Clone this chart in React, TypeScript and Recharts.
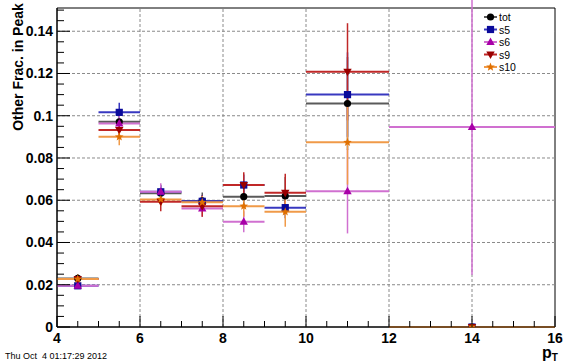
import React from "react";
import {
  ScatterChart,
  Scatter,
  XAxis,
  YAxis,
  ErrorBar,
  ReferenceLine,
  ReferenceArea,
} from "recharts";

// bin centres and half widths (p_T bins)
const binCenters = [4.5, 5.5, 6.5, 7.5, 8.5, 9.5, 11, 14];
const binHalfWidths = [0.5, 0.5, 0.5, 0.5, 0.5, 0.5, 1, 2];

const totValues = [0.023, 0.0971, 0.0633, 0.0597, 0.0617, 0.062, 0.1058, 0];
const totErrors = [0.002, 0.004, 0.004, 0.004, 0.006, 0.009, 0.022, 0];
const s5Values = [0.0195, 0.1016, 0.064, 0.0595, 0.0672, 0.0565, 0.11, 0];
const s5Errors = [0.0015, 0.0045, 0.003, 0.003, 0.005, 0.005, 0.02, 0];
const s6Values = [0.0195, 0.0963, 0.064, 0.0561, 0.0498, null, 0.0643, 0.0947];
const s6Errors = [0.0015, 0.004, 0.004, 0.004, 0.005, null, 0.02, 0.07];
const s9Values = [0.0227, 0.0932, 0.0593, 0.0572, 0.0672, 0.0635, 0.1208, 0];
const s9Errors = [0.002, 0.004, 0.0045, 0.005, 0.006, 0.009, 0.023, 0];
const s10Values = [0.0227, 0.09, 0.0604, 0.059, 0.0572, 0.0545, 0.0874, 0];
const s10Errors = [0.002, 0.004, 0.003, 0.003, 0.005, 0.007, 0.02, 0];

const seriesNames = ["tot", "s5", "s6", "s9", "s10"];

const xMajorTicks = [4, 6, 8, 10, 12, 14, 16];
const yMajorTicks = [0, 0.02, 0.04, 0.06, 0.08, 0.1, 0.12, 0.14];
const yTickLabels = ["0", "0.02", "0.04", "0.06", "0.08", "0.1", "0.12", "0.14"];

const X_DOMAIN: [number, number] = [4, 16];
const Y_DOMAIN: [number, number] = [0, 0.151];

const xAllTicks: number[] = [];
for (let i = 0; i <= 24; i++) xAllTicks.push(4 + i * 0.5);
const yAllTicks: number[] = [];
for (let i = 0; i <= 30; i++) yAllTicks.push(Number((i * 0.005).toFixed(3)));

const FONT = "'Liberation Sans', Arial, sans-serif";

const makeRows = (vals: (number | null)[], errs: (number | null)[]) =>
  binCenters
    .map((x, i) => ({ x, y: vals[i], ex: binHalfWidths[i], ey: errs[i] }))
    .filter((r) => r.y !== null);

const styles = [
  { marker: "circle", fill: "#000000", line: "#5a5a5a" },
  { marker: "square", fill: "#0a0a9a", line: "#3838c0" },
  { marker: "triUp", fill: "#a800a8", line: "#d070d0" },
  { marker: "triDown", fill: "#9a0000", line: "#c02828" },
  { marker: "star", fill: "#e07000", line: "#f09a48" },
];

const allData = [
  makeRows(totValues, totErrors),
  makeRows(s5Values, s5Errors),
  makeRows(s6Values, s6Errors),
  makeRows(s9Values, s9Errors),
  makeRows(s10Values, s10Errors),
];

function Marker({ kind, cx, cy, fill }: { kind: string; cx: number; cy: number; fill: string }) {
  if (kind === "circle") return <circle cx={cx} cy={cy} r={3.6} fill={fill} />;
  if (kind === "square") return <rect x={cx - 3.6} y={cy - 3.6} width={7.2} height={7.2} fill={fill} />;
  if (kind === "triUp")
    return <polygon points={`${cx},${cy - 4.5} ${cx + 4.2},${cy + 3} ${cx - 4.2},${cy + 3}`} fill={fill} />;
  if (kind === "triDown")
    return <polygon points={`${cx},${cy + 4.5} ${cx + 4.2},${cy - 3} ${cx - 4.2},${cy - 3}`} fill={fill} />;
  const pts: string[] = [];
  for (let i = 0; i < 10; i++) {
    const r = i % 2 === 0 ? 4.5 : 1.9;
    const a = -Math.PI / 2 + (i * Math.PI) / 5;
    pts.push(`${cx + r * Math.cos(a)},${cy + r * Math.sin(a)}`);
  }
  return <polygon points={pts.join(" ")} fill={fill} />;
}

const isMajor = (v: number, list: number[]) => list.some((t) => Math.abs(t - v) < 1e-6);

const XTick = (props: any) => {
  const { x, y, payload } = props;
  const major = isMajor(payload.value, xMajorTicks);
  return (
    <g>
      <line x1={x} x2={x} y1={y} y2={y - (major ? 11 : 6)} stroke="#000" />
      {major && (
        <text x={x} y={y + 16} textAnchor="middle" fontFamily={FONT} fontWeight="bold" fontSize={14} fill="#000">
          {payload.value}
        </text>
      )}
    </g>
  );
};

const YTick = (props: any) => {
  const { x, y, payload } = props;
  const idx = yMajorTicks.findIndex((t) => Math.abs(t - payload.value) < 1e-6);
  const major = idx >= 0;
  return (
    <g>
      <line x1={x} x2={x + (major ? 13 : 7)} y1={y} y2={y} stroke="#000" />
      {major && (
        <text x={x - 4} y={y + 5} textAnchor="end" fontFamily={FONT} fontWeight="bold" fontSize={14} fill="#000">
          {yTickLabels[idx]}
        </text>
      )}
    </g>
  );
};

export default function App() {
  return (
    <div style={{ position: "absolute", left: 0, top: 0, width: 567, height: 364, background: "#fff" }}>
      <ScatterChart width={567} height={364} margin={{ top: 8, right: 12, bottom: 0, left: 0 }}>
        <XAxis
          type="number"
          dataKey="x"
          domain={X_DOMAIN}
          ticks={xAllTicks}
          interval={0}
          height={37}
          tickSize={0}
          tickMargin={0}
          tickLine={false}
          tick={<XTick />}
          axisLine={{ stroke: "#000" }}
          allowDataOverflow
        />
        <YAxis
          type="number"
          dataKey="y"
          domain={Y_DOMAIN}
          ticks={yAllTicks}
          interval={0}
          width={57}
          tickSize={0}
          tickMargin={0}
          tickLine={false}
          tick={<YTick />}
          axisLine={{ stroke: "#000" }}
          allowDataOverflow
        />
        {xMajorTicks.slice(1, -1).map((t) => (
          <ReferenceLine key={"gx" + t} x={t} stroke="#8a8a8a" strokeDasharray="3 2" />
        ))}
        {yMajorTicks.slice(1).map((t) => (
          <ReferenceLine key={"gy" + t} y={t} stroke="#8a8a8a" strokeDasharray="3 2" />
        ))}
        <ReferenceArea x1={X_DOMAIN[0]} x2={X_DOMAIN[1]} y1={Y_DOMAIN[0]} y2={Y_DOMAIN[1]} fill="none" stroke="#000" />
        {allData.map((rows, i) => (
          <Scatter
            key={seriesNames[i]}
            name={seriesNames[i]}
            data={rows}
            isAnimationActive={false}
            shape={(p: any) => <Marker kind={styles[i].marker} cx={p.cx} cy={p.cy} fill={styles[i].fill} />}
          >
            <ErrorBar dataKey="ex" direction="x" width={0} stroke={styles[i].line} strokeWidth={2} isAnimationActive={false} />
            <ErrorBar dataKey="ey" direction="y" width={0} stroke={styles[i].line} strokeWidth={1.5} isAnimationActive={false} />
          </Scatter>
        ))}
      </ScatterChart>
      <svg width={567} height={364} style={{ position: "absolute", left: 0, top: 0, pointerEvents: "none" }}>
        <text
          transform="translate(23,67) rotate(-90)"
          textAnchor="middle"
          fontFamily={FONT}
          fontWeight="bold"
          fontSize={14}
          fill="#000"
        >
          Other Frac. in Peak
        </text>
        <text x={542} y={358} fontFamily={FONT} fontWeight="bold" fontSize={16} fill="#000">
          p<tspan fontSize={10} dy={3}>T</tspan>
        </text>
        <text x={5} y={359} fontFamily={FONT} fontSize={9} fill="#000" style={{ whiteSpace: "pre" }}>
          {"Thu Oct  4 01:17:29 2012"}
        </text>
        <rect x={480} y={9} width={74} height={64} fill="#fff" />
        {seriesNames.map((n, i) => {
          const cy = 17 + i * 12.5;
          return (
            <g key={n}>
              <line x1={484} x2={497} y1={cy} y2={cy} stroke={styles[i].line} strokeWidth={2} />
              <Marker kind={styles[i].marker} cx={490.5} cy={cy} fill={styles[i].fill} />
              <text x={499} y={cy + 4} fontFamily={FONT} fontSize={10.5} fill="#000">
                {n}
              </text>
            </g>
          );
        })}
      </svg>
    </div>
  );
}
